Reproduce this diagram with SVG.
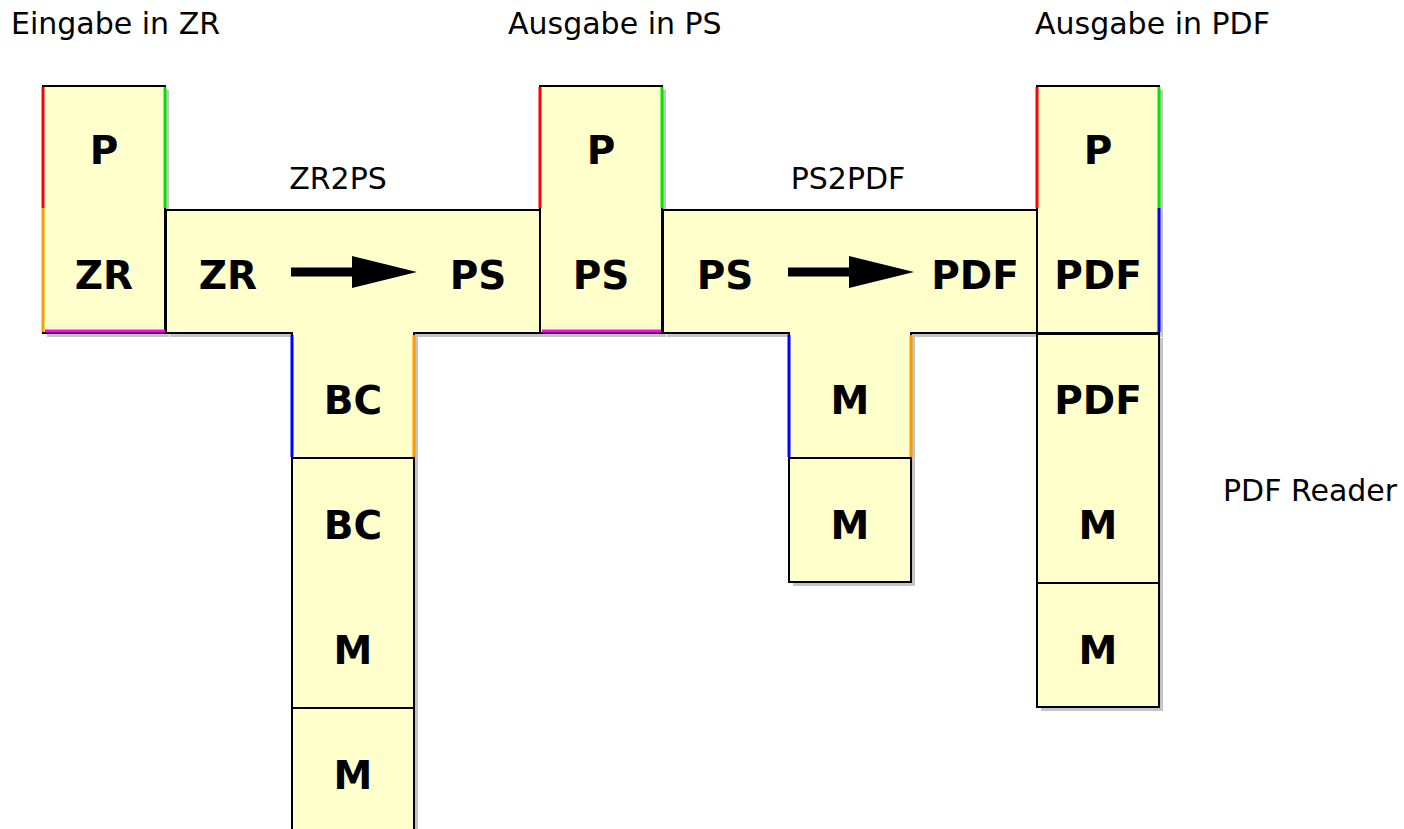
<svg xmlns="http://www.w3.org/2000/svg" width="1404" height="829" viewBox="0 0 1404 829">
  <style>
    .box { fill: #ffffcc; stroke: #000; stroke-width: 2; }
    .shadow { fill: #c4c4c4; }
    .edge { stroke-width: 3; fill: none; }
    .red { stroke: #ff0000; }
    .green { stroke: #00e600; }
    .orange { stroke: #ff9900; }
    .blue { stroke: #0000ff; }
    .magenta { stroke: #ff00ff; }
    .lbl { font-family: "DejaVu Sans", Verdana, sans-serif; font-weight: bold; font-size: 39px; text-anchor: middle; fill: #000; }
    .cap { font-family: "DejaVu Sans", Verdana, sans-serif; font-size: 30px; fill: #000; }
    .capc { font-family: "DejaVu Sans", Verdana, sans-serif; font-size: 30px; fill: #000; text-anchor: middle; }
  </style>
  <defs>
    <g id="arrow">
      <rect x="0" y="-4.5" width="62" height="9" fill="#000"/>
      <polygon points="61,-16 126,0 61,16" fill="#000"/>
    </g>
  </defs>
  <rect width="1404" height="829" fill="#fff"/>

  <!-- captions -->
  <text class="cap" x="11" y="34">Eingabe in ZR</text>
  <text class="cap" x="508" y="34">Ausgabe in PS</text>
  <text class="cap" x="1035" y="34">Ausgabe in PDF</text>
  <text class="capc" x="338" y="189">ZR2PS</text>
  <text class="capc" x="848" y="189">PS2PDF</text>
  <text class="cap" x="1223" y="501">PDF Reader</text>

  <!-- program P in ZR -->
  <g id="prog-zr">
    <rect class="shadow" x="47" y="90" width="122" height="247"/>
    <rect class="box" x="43" y="86" width="122" height="247"/>
    <line class="edge red" x1="43" y1="87" x2="43" y2="208"/>
    <line class="edge orange" x1="43" y1="208" x2="43" y2="332"/>
    <line class="edge green" x1="165" y1="87" x2="165" y2="208"/>
    <line class="edge magenta" x1="45" y1="331" x2="165" y2="331"/>
    <text class="lbl" x="104" y="164">P</text>
    <text class="lbl" x="104" y="289">ZR</text>
  </g>

  <!-- compiler ZR2PS written in BC -->
  <g id="comp-zr2ps">
    <polygon class="shadow" points="170,214 544,214 544,337 418,337 418,462 296,462 296,337 170,337"/>
    <polygon class="box" points="166,210 540,210 540,333 414,333 414,458 292,458 292,333 166,333"/>
    <line class="edge blue" x1="292" y1="335" x2="292" y2="457"/>
    <line class="edge orange" x1="414" y1="335" x2="414" y2="457"/>
    <text class="lbl" x="228" y="289">ZR</text>
    <text class="lbl" x="478" y="289">PS</text>
    <text class="lbl" x="353" y="414">BC</text>
  </g>

  <!-- interpreter BC on M -->
  <g id="interp-bc">
    <rect class="shadow" x="296" y="462" width="122" height="380"/>
    <rect class="box" x="292" y="458" width="122" height="250"/>
    <text class="lbl" x="353" y="539">BC</text>
    <text class="lbl" x="353" y="664">M</text>
  </g>

  <!-- machine M -->
  <g id="machine-m1">
    <rect class="box" x="292" y="708" width="122" height="135"/>
    <text class="lbl" x="353" y="789">M</text>
  </g>

  <!-- program P in PS -->
  <g id="prog-ps">
    <rect class="shadow" x="544" y="90" width="122" height="247"/>
    <rect class="box" x="540" y="86" width="122" height="247"/>
    <line class="edge red" x1="540" y1="87" x2="540" y2="208"/>
    <line class="edge green" x1="662" y1="87" x2="662" y2="208"/>
    <line class="edge magenta" x1="542" y1="331" x2="661" y2="331"/>
    <text class="lbl" x="601" y="164">P</text>
    <text class="lbl" x="601" y="289">PS</text>
  </g>

  <!-- compiler PS2PDF written in M -->
  <g id="comp-ps2pdf">
    <polygon class="shadow" points="667,214 1041,214 1041,337 915,337 915,462 793,462 793,337 667,337"/>
    <polygon class="box" points="663,210 1037,210 1037,333 911,333 911,458 789,458 789,333 663,333"/>
    <line class="edge blue" x1="789" y1="335" x2="789" y2="457"/>
    <line class="edge orange" x1="911" y1="335" x2="911" y2="457"/>
    <text class="lbl" x="725" y="289">PS</text>
    <text class="lbl" x="975" y="289">PDF</text>
    <text class="lbl" x="850" y="414">M</text>
  </g>

  <!-- machine M -->
  <g id="machine-m2">
    <rect class="shadow" x="793" y="462" width="122" height="124"/>
    <rect class="box" x="789" y="458" width="122" height="124"/>
    <text class="lbl" x="850" y="539">M</text>
  </g>

  <!-- program P in PDF -->
  <g id="prog-pdf">
    <rect class="shadow" x="1041" y="90" width="122" height="247"/>
    <rect class="box" x="1037" y="86" width="122" height="247"/>
    <line class="edge red" x1="1037" y1="87" x2="1037" y2="208"/>
    <line class="edge green" x1="1159" y1="87" x2="1159" y2="208"/>
    <line class="edge blue" x1="1159" y1="208" x2="1159" y2="332"/>
    <text class="lbl" x="1098" y="164">P</text>
    <text class="lbl" x="1098" y="289">PDF</text>
  </g>

  <!-- interpreter PDF on M (PDF Reader) -->
  <g id="interp-pdf">
    <rect class="shadow" x="1041" y="338" width="122" height="373"/>
    <rect class="box" x="1037" y="334" width="122" height="249"/>
    <text class="lbl" x="1098" y="414">PDF</text>
    <text class="lbl" x="1098" y="539">M</text>
  </g>

  <!-- machine M -->
  <g id="machine-m3">
    <rect class="box" x="1037" y="583" width="122" height="124"/>
    <text class="lbl" x="1098" y="664">M</text>
  </g>

  <!-- translation arrows -->
  <g id="connectors">
    <use href="#arrow" x="291" y="272"/>
    <use href="#arrow" x="788" y="272"/>
  </g>
</svg>
